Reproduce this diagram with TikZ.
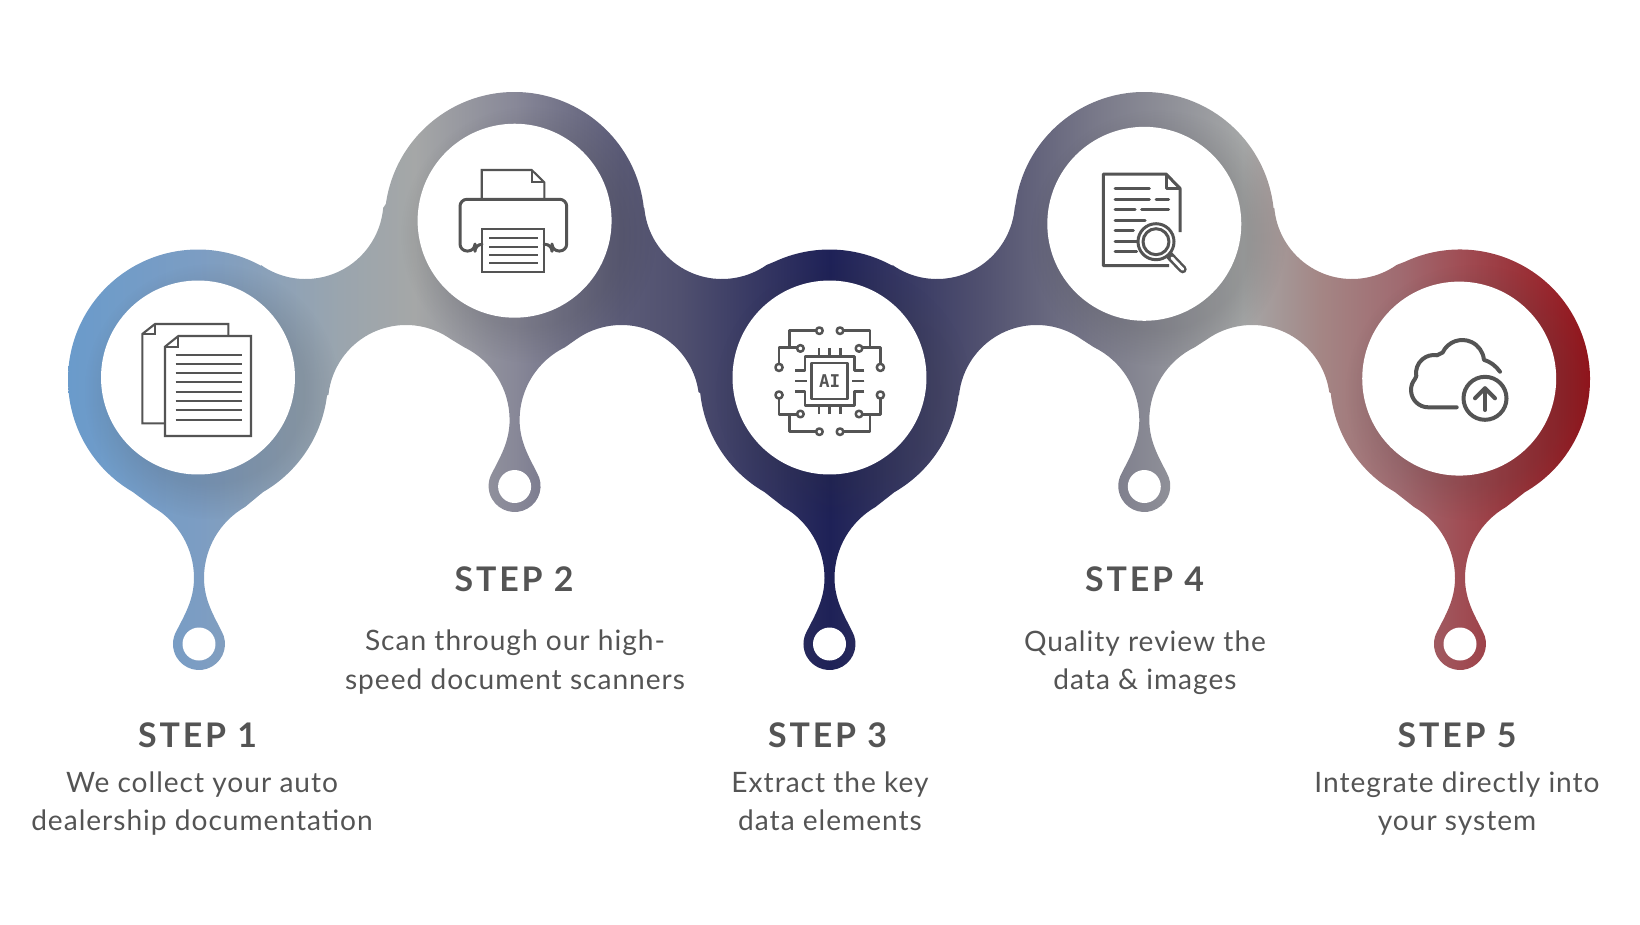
\documentclass[tikz,border=0pt]{standalone}
\usepackage{fontspec}
\setmainfont{Lato}
\newfontfamily\titlefont[LetterSpace=8.5]{Lato}
\newfontfamily\descfont[LetterSpace=3.5]{Lato}
\newfontfamily\chipfont{DejaVu Sans Mono}
\usetikzlibrary{positioning,fadings,calc}
\definecolor{textgray}{HTML}{545454}
\definecolor{icongray}{HTML}{545454}
\definecolor{rampa}{HTML}{6A9BCB}
\definecolor{rampb}{HTML}{7C9DC3}
\definecolor{rampc}{HTML}{9AA5AE}
\definecolor{rampd}{HTML}{A5A7A7}
\definecolor{rampe}{HTML}{888898}
\definecolor{rampf}{HTML}{5B5B77}
\definecolor{rampg}{HTML}{50506F}
\definecolor{ramph}{HTML}{1E2157}
\definecolor{rampi}{HTML}{7A7A8A}
\definecolor{rampj}{HTML}{A48685}
\definecolor{rampk}{HTML}{A06A70}
\definecolor{rampl}{HTML}{A04E55}
\definecolor{rampm}{HTML}{94131A}
% horizontal ramp, 25bp and 75bp are the left and right page edge
\pgfdeclarehorizontalshading{ramp}{100bp}{
  color(0bp)=(rampa); color(27.07bp)=(rampa); color(31.04bp)=(rampb);
  color(35.37bp)=(rampc); color(37.65bp)=(rampd); color(40.7bp)=(rampe);
  color(43.9bp)=(rampf); color(45.73bp)=(rampg); color(50.3bp)=(ramph);
  color(54.88bp)=(rampg); color(58.5bp)=(rampi); color(62.9bp)=(rampd);
  color(65.24bp)=(rampj); color(67.7bp)=(rampk); color(69.5bp)=(rampl);
  color(73.5bp)=(rampm); color(100bp)=(rampm)}
% soft dark ring round a face
\pgfdeclareradialshading{haloshade}{\pgfpointorigin}{
  color(0bp)=(black!86); color(18bp)=(black!86); color(25bp)=(black); color(50bp)=(black)}
\pgfdeclarefading{halo}{\pgfuseshading{haloshade}}
% arc of a circle, joined to what came before
\newcommand{\arcat}[5]{-- ([shift={(#1,#2)}]#4:#3) arc[start angle=#4,end angle=#5,radius=#3]}
% stem hanging down, right side first, then the bulb, then left side
\newcommand{\stemdown}[4]{
  \arcat{#1+#4+5}{#2}{#4}{#3}{180}
  .. controls ($(#1+5,#2+22)$) and ($(#1+15,#2+38)$) .. ($(#1+22.5,#2+53)$)
  arc[start angle=-30,end angle=210,radius=26]
  .. controls ($(#1-15,#2+38)$) and ($(#1-5,#2+22)$) .. ($(#1-5,#2)$)
  \arcat{#1-#4-5}{#2}{#4}{0}{180-#3}}
\tikzset{
  face/.style={circle,fill=white,inner sep=0pt,minimum size=3.88cm},
  hole/.style={circle,fill=white,inner sep=0pt,minimum size=0.66cm},
  steptitle/.style={font=\fontsize{19.3pt}{22pt}\selectfont\titlefont\bfseries,text=textgray},
  stepdesc/.style={font=\fontsize{16pt}{21.8pt}\selectfont\descfont,text=textgray,align=center},
  iconthick/.style={draw=icongray,line width=0.06cm,line join=round,line cap=round},
  iconthin/.style={draw=icongray,line width=0.042cm,line join=miter}
}
\begin{document}
\begin{tikzpicture}[x=0.02cm,y=-0.02cm]
  \useasboundingbox (0,0) rectangle (1640,924);
  % the band
  \begin{scope}
    \clip (68,379.5) arc[start angle=180,end angle=300,radius=130]
      \arcat{305.5}{201}{78}{125}{5}
      \arcat{514.6}{222}{130}{188}{354}
      \arcat{722}{201}{78}{175}{55}
      \arcat{829.5}{379.5}{130}{245}{300}
      \arcat{937}{201}{78}{125}{5}
      \arcat{1144.3}{222}{130}{188}{354}
      \arcat{1352}{201}{78}{175}{55}
      \arcat{1460}{379.5}{130}{245}{420}
      \stemdown{1460}{578}{240}{82}
      \arcat{1460}{379.5}{130}{120}{174}
      \arcat{1252}{403}{78}{-8}{-125}
      \stemdown{1144.3}{420}{244}{81}
      \arcat{1036.6}{403}{78}{-55}{-174}
      \arcat{829.5}{379.5}{130}{7}{60}
      \stemdown{829.5}{578}{240}{82}
      \arcat{829.5}{379.5}{130}{120}{174}
      \arcat{621.3}{403}{78}{-8}{-125}
      \stemdown{514.6}{420}{244}{81}
      \arcat{406}{403}{78}{-55}{-174}
      \arcat{198}{379.5}{130}{7}{60}
      \stemdown{199}{578}{240}{82}
      \arcat{198}{379.5}{130}{120}{180}
      -- cycle;
    \shade[shading=ramp] (0,0) rectangle (1640,924);
    \foreach \cx/\cy in {198/377.5,514.6/220.7,829.5/377.5,1144.3/223.8,1459.2/378.6}
      \fill[black!80,path fading=halo] (\cx+14,\cy+14) circle[radius=128];
  \end{scope}
  % white faces and bulb holes
  \node[face] (face1) at (198,377.5) {};
  \node[face] (face2) at (514.6,220.7) {};
  \node[face] (face3) at (829.5,377.5) {};
  \node[face] (face4) at (1144.3,223.8) {};
  \node[face] (face5) at (1459.2,378.6) {};
  \node[hole] (hole1) at (199,644) {};
  \node[hole] (hole2) at (514.6,486.5) {};
  \node[hole] (hole3) at (829.5,644) {};
  \node[hole] (hole4) at (1144.3,486.5) {};
  \node[hole] (hole5) at (1460,644) {};
  % icon 1, two pages
  \draw[iconthin] (165,423.3) -- (142.3,423.3) -- (142.3,334) -- (155,324) -- (228.3,324) -- (228.3,336);
  \draw[iconthin] (155,324) -- (155,334) -- (142.3,334);
  \draw[iconthin,fill=white] (165,436) -- (165,346.7) -- (178.3,336) -- (251,336) -- (251,436) -- cycle;
  \draw[iconthin] (178.3,336) -- (178.3,346.7) -- (165,346.7);
  \foreach \ly in {355,364,373.3,382.3,391.7,401,410.3,419.7}
    \draw[iconthin] (175.7,\ly) -- (241.7,\ly);
  % icon 2, printer
  \draw[iconthin] (481.7,198.3) -- (481.7,170) -- (531.7,170) -- (544.3,182.3) -- (544.3,198.3);
  \draw[iconthin] (531.7,170) -- (531.7,182.3) -- (544.3,182.3);
  \draw[iconthick,rounded corners=0.14cm] (481.7,244.3) -- (475,244.3) -- (475,251) -- (460,251) -- (460,199.3)
    -- (566.7,199.3) -- (566.7,251) -- (552,251) -- (552,244.3) -- (544.3,244.3);
  \draw[iconthin] (481.7,229.3) rectangle (544.3,272.3);
  \foreach \ly in {238.3,246.7,255,263.3}
    \draw[iconthin] (489,\ly) -- (537.7,\ly);
  % icon 3, chip, one quarter mirrored four times
  \foreach \sx/\sy in {1/1,-1/1,1/-1,-1/-1}{
    \begin{scope}[shift={(829.7,381.2)},xscale=\sx,yscale=\sy,iconthick,line width=0.05cm,line cap=butt]
      \draw (-10.3,-50.5) circle[radius=3.3];
      \draw (-13.6,-50.5) -- (-40.3,-50.5) -- (-40.3,-33.5);
      \draw (-29.3,-32.8) circle[radius=3.3];
      \draw (-32.6,-33.5) -- (-50.7,-33.5) -- (-50.7,-17.4);
      \draw (-50.7,-13.8) circle[radius=3.6];
      \draw (-34.7,-10.5) -- (-24.7,-10.5) -- (-24.7,-24.5) -- (0,-24.5);
      \draw (-34.7,0) -- (-22.3,0);
      \draw (-10.7,-32.8) -- (-10.7,-24.5);
      \draw (0,-32.8) -- (0,-24.5);
      \draw (-18,0) -- (-18,-18) -- (0,-18);
    \end{scope}}
  \node[font=\fontsize{10pt}{10pt}\selectfont\chipfont\bfseries,text=icongray,inner sep=0pt] (chip) at (829.7,381.2) {AI};
  % icon 4, page and lens
  \draw[iconthick,line cap=butt] (1169,265.7) -- (1103.3,265.7) -- (1103.3,174) -- (1166,174) -- (1180,188.3) -- (1180,232);
  \draw[iconthick,line cap=butt] (1166,174) -- (1166,188.3) -- (1180,188.3);
  \foreach \lx/\rx/\ly in {1115/1149.3/188.3,1115/1149.3/199,1156/1168.7/199,1115/1135/209.3,1141.7/1168.7/209.3,
      1115/1145/220,1115/1133.3/230.7,1115/1136.7/241,1115/1136.7/251.7}
    \draw[iconthick] (\lx,\ly) -- (\rx,\ly);
  \draw[icongray,line width=0.16cm,line cap=round] (1169,255) -- (1182.7,269.3);
  \draw[white,line width=0.06cm,line cap=round] (1172,258) -- (1182.7,269.3);
  \draw[iconthick,fill=white] (1156,241.7) circle[radius=18];
  \draw[iconthick] (1156,241.7) circle[radius=13];
  % icon 5, cloud and arrow
  \begin{scope}[iconthick,line width=0.08cm]
    \draw (1456.7,407.3) -- (1428.3,407.3) arc[start angle=90,end angle=220,radius=17.3]
      \arcat{1434}{373}{18}{170}{280}
      \arcat{1462.3}{361.7}{21.7}{205}{355}
      .. controls (1490,361.5) and (1496,366) .. (1500,371.7);
    \draw[fill=white] (1485,398.3) circle[radius=21.5];
    \draw (1485,388.3) -- (1485,410);
    \draw (1475,398.3) -- (1485,388.3) -- (1495,398.3);
  \end{scope}
  % texts
  \node[steptitle] (title1) at (197.5,735.5) {STEP 1};
  \node[stepdesc] (desc1) at (202,803.5) {We collect your auto\\dealership documentation};
  \node[steptitle] (title2) at (514,579.5) {STEP 2};
  \node[stepdesc] (desc2) at (515,662) {Scan through our high-\\speed document scanners};
  \node[steptitle] (title3) at (827.5,735.5) {STEP 3};
  \node[stepdesc] (desc3) at (830,801.5) {Extract the key\\data elements};
  \node[steptitle] (title4) at (1144.5,579.5) {STEP 4};
  \node[stepdesc] (desc4) at (1145,662.5) {Quality review the\\data \& images};
  \node[steptitle] (title5) at (1457,735.5) {STEP 5};
  \node[stepdesc] (desc5) at (1457,803.5) {Integrate directly into\\your system};
\end{tikzpicture}
\end{document}
